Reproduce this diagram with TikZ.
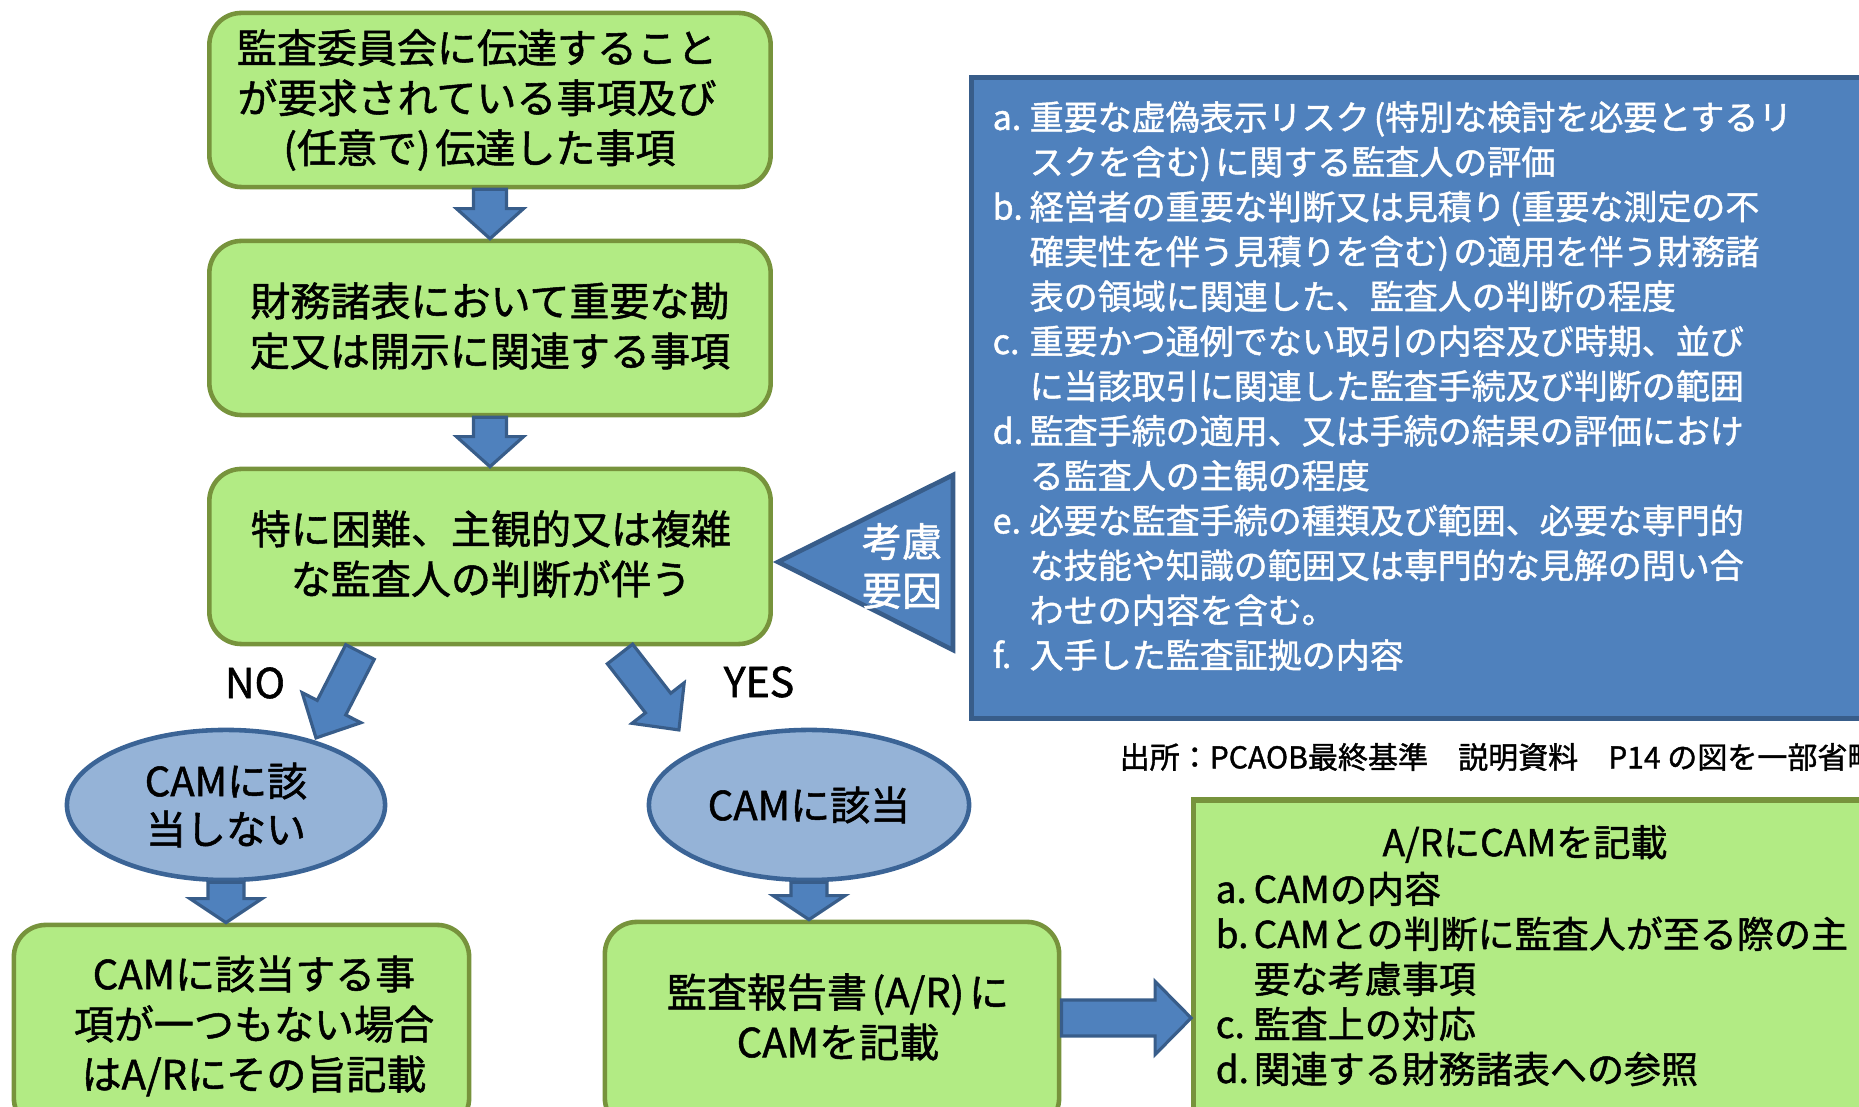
\documentclass[tikz,border=0pt]{standalone}
\usepackage{fontspec}
\setmainfont[FakeBold=1.3]{Noto Sans CJK JP}
\usetikzlibrary{shapes.geometric,calc}
\definecolor{gfill}{HTML}{B2EB84}
\definecolor{gdraw}{HTML}{77933C}
\definecolor{bfill}{HTML}{4F81BD}
\definecolor{bdraw}{HTML}{385D8A}
\definecolor{efill}{HTML}{95B3D7}
\definecolor{edraw}{HTML}{3B6496}
\newcommand\lbl[1]{\makebox[0.37cm][l]{#1}}
\newcommand\lblb[1]{\makebox[0.38cm][l]{#1}}
\newcommand\lp{\hspace{0.12em}(}
\newcommand\rp{)\hspace{0.12em}}
% block arrow: #1 from, #2 to, #3 shaft half width, #4 head half width, #5 head length
\newcommand\blkarrow[5]{%
  \path let \p1=($(#2)-(#1)$) in \pgfextra{\pgfmathsetmacro\tmpA{atan2(\y1,\x1)}\pgfmathsetmacro\tmpL{veclen(\x1,\y1)}\xdef\baAng{\tmpA}\xdef\baLen{\tmpL}};
  \begin{scope}[shift={(#1)},rotate=\baAng]
    \draw[blk] (0pt,-#3) -- (\baLen pt-#5,-#3) -- (\baLen pt-#5,-#4) -- (\baLen pt,0pt) -- (\baLen pt-#5,#4) -- (\baLen pt-#5,#3) -- (0pt,#3) -- cycle;
  \end{scope}}
\begin{document}
\begin{tikzpicture}[x=0.01cm,y=-0.01cm,
  gbox/.style={rectangle, rounded corners=0.32cm, fill=gfill, draw=gdraw, line width=1.3pt, inner sep=0pt},
  btxt/.style={align=center, inner sep=0pt, font=\fontsize{11.38pt}{14.23pt}\selectfont},
  ell/.style={ellipse, fill=efill, draw=edraw, line width=1.3pt, align=center, inner sep=0pt, font=\fontsize{11.38pt}{13.66pt}\selectfont},
  blk/.style={fill=bfill, draw=bdraw, line width=0.9pt, line join=miter},
  lab/.style={inner sep=0pt, font=\fontsize{11.67pt}{14pt}\selectfont},
]
\useasboundingbox (0,0) rectangle (1859,1107);

% main flow boxes
\node[gbox, minimum width=5.61cm, minimum height=1.74cm] (b1) at (490,100) {};
\node[btxt] (b1txt) at (477,100)
  {監査委員会に伝達すること\\が要求されている事項及び\\\lp 任意で\rp 伝達した事項};
\node[gbox, minimum width=5.61cm, minimum height=1.74cm] (b2) at (490,328) {};
\node[btxt] (b2txt) at (490,326)
  {財務諸表において重要な勘\\定又は開示に関連する事項};
\node[gbox, minimum width=5.61cm, minimum height=1.75cm] (b3) at (490,556.5) {};
\node[btxt] (b3txt) at (491,554)
  {特に困難、主観的又は複雑\\な監査人の判断が伴う};

% considerations box
\node[rectangle, fill=bfill, draw=bdraw, line width=1.5pt, minimum width=9.03cm, minimum height=6.40cm, inner sep=0pt] (blue) at (1423.5,398) {};
\node[anchor=west, align=left, inner sep=0pt, text=white, font=\fontsize{9.67pt}{12.75pt}\selectfont] (bluetxt) at (992,386)
  {\lbl{a.}重要な虚偽表示リスク\lp 特別な検討を必要とするリ\\
   \lbl{}スクを含む\rp に関する監査人の評価\\
   \lbl{b.}経営者の重要な判断又は見積り\lp 重要な測定の不\\
   \lbl{}確実性を伴う見積りを含む\rp の適用を伴う財務諸\\
   \lbl{}表の領域に関連した、監査人の判断の程度\\
   \lbl{c.}重要かつ通例でない取引の内容及び時期、並び\\
   \lbl{}に当該取引に関連した監査手続及び判断の範囲\\
   \lbl{d.}監査手続の適用、又は手続の結果の評価におけ\\
   \lbl{}る監査人の主観の程度\\
   \lbl{e.}必要な監査手続の種類及び範囲、必要な専門的\\
   \lbl{}な技能や知識の範囲又は専門的な見解の問い合\\
   \lbl{}わせの内容を含む。\\
   \lbl{f.}入手した監査証拠の内容};

% triangle pointer
\coordinate (tritip) at (778,562);
\coordinate (tritop) at (953,475);
\coordinate (tribot) at (953,650);
\draw[blk, line width=1.3pt] (tritip) -- (tritop) -- (tribot) -- cycle;
\node[align=center, inner sep=0pt, text=white, font=\fontsize{11.38pt}{13.95pt}\selectfont] (trilabel) at (902,566) {考慮\\要因};

% source note
\node[anchor=west, inner sep=0pt, font=\fontsize{8.54pt}{10pt}\selectfont] (src) at (1119,757)
  {出所：PCAOB最終基準　説明資料　P14 の図を一部省略};

% decision labels
\node[lab] (nolab) at (255,683) {NO};
\node[lab] (yeslab) at (759,682) {YES};

% outcome ellipses
\node[ell, minimum width=3.18cm, minimum height=1.50cm] (e1) at (226,805) {CAMに該\\当しない};
\node[ell, minimum width=3.20cm, minimum height=1.50cm] (e2) at (809,805) {CAMに該当};

% bottom boxes
\node[gbox, minimum width=4.55cm, minimum height=2.05cm] (b4) at (241.5,1027.5) {};
\node[btxt] (b4txt) at (254,1026)
  {CAMに該当する事\\項が一つもない場合\\はA/Rにその旨記載};
\node[gbox, minimum width=4.54cm, minimum height=2.08cm] (b5) at (832,1026) {};
\node[btxt] (b5txt) at (838,1017)
  {監査報告書\lp A/R\rp に\\CAMを記載};
\node[rectangle, fill=gfill, draw=gdraw, line width=1.5pt, minimum width=6.86cm, minimum height=3.30cm, inner sep=0pt] (b6) at (1537,965) {};
\node[inner sep=0pt, font=\fontsize{10.53pt}{12.8pt}\selectfont] (b6title) at (1525,844) {A/RにCAMを記載};
\node[anchor=west, align=left, inner sep=0pt, font=\fontsize{10.53pt}{12.8pt}\selectfont] (b6txt) at (1215,979)
  {\lblb{a.}CAMの内容\\
   \lblb{b.}CAMとの判断に監査人が至る際の主\\
   \lblb{}要な考慮事項\\
   \lblb{c.}監査上の対応\\
   \lblb{d.}関連する財務諸表への参照};

% connector coordinates
\coordinate (a1s) at (b1.south);
\coordinate (a1e) at (b1.south |- b2.north);
\coordinate (a2s) at (b2.south);
\coordinate (a2e) at (b2.south |- b3.north);
\coordinate (nos) at (360,652);
\coordinate (noe) at (316,738);
\coordinate (yss) at (620,654);
\coordinate (yse) at (679,730);
\coordinate (a5s) at (e1.south);
\coordinate (a5e) at (e1.south |- b4.north);
\coordinate (a6s) at (e2.south);
\coordinate (a6e) at (e2.south |- b5.north);
\coordinate (r1) at ($(b5.east)+(0,-8)$);
\coordinate (r2) at (b6.west |- r1);

% block arrows
\blkarrow{a1s}{a1e}{0.165cm}{0.335cm}{0.30cm}
\blkarrow{a2s}{a2e}{0.165cm}{0.335cm}{0.30cm}
\blkarrow{nos}{noe}{0.16cm}{0.33cm}{0.34cm}
\blkarrow{yss}{yse}{0.16cm}{0.33cm}{0.34cm}
\blkarrow{a5s}{a5e}{0.18cm}{0.36cm}{0.24cm}
\blkarrow{a6s}{a6e}{0.18cm}{0.36cm}{0.24cm}
\blkarrow{r1}{r2}{0.18cm}{0.365cm}{0.36cm}
\end{tikzpicture}
\end{document}
